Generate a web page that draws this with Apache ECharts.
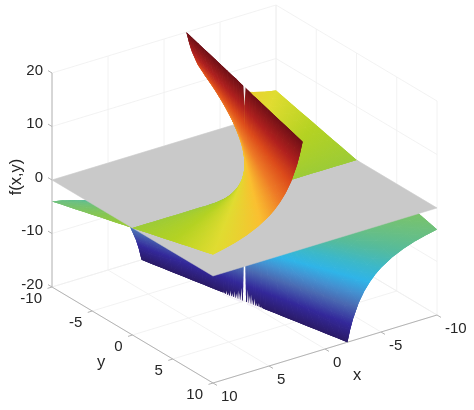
<!DOCTYPE html>
<html>
<head>
<meta charset="utf-8">
<style>html,body{margin:0;padding:0;background:#fff}#c{width:474px;height:410px}</style>
<script src="https://cdn.jsdelivr.net/npm/echarts@6/dist/echarts.min.js"></script>
</head>
<body>
<div id="c"></div>
<script>
const xTicks = [-10, -5, 0, 5, 10];
const yTicks = [-10, -5, 0, 5, 10];
const zTicks = [-20, -10, 0, 10, 20];
const planeLevel = 0;
const xMagnitudes = [0.01, 0.03, 0.1, 0.2, 0.4, 0.6, 0.8, 1, 1.2, 1.4, 1.6, 1.8, 2, 2.25, 2.5, 3, 3.5, 4, 4.5, 5, 6, 7, 8, 9, 10];
const yMagnitudes = [0, 0.15, 0.5, 1, 1.5, 2, 3, 4, 5, 6, 7, 8, 9, 10];
const zMagnitudes = [
  [0, 60, 200, 400, 600, 800, 1200, 1600, 2000, 2400, 2800, 3200, 3600, 4000],
  [0, 20, 66.67, 133.33, 200, 266.67, 400, 533, 667, 800, 933, 1067, 1200, 1333],
  [0, 6, 20, 40, 60, 80, 120, 160, 200, 240, 280, 320, 360, 400],
  [0, 3, 10, 20, 30, 40, 60, 80, 100, 120, 140, 160, 180, 200],
  [0, 1.5, 5, 10, 15, 20, 30, 40, 50, 60, 70, 80, 90, 100],
  [0, 1, 3.33, 6.67, 10, 13.33, 20, 26.67, 33.33, 40, 46.67, 53.33, 60, 66.67],
  [0, 0.75, 2.5, 5, 7.5, 10, 15, 20, 25, 30, 35, 40, 45, 50],
  [0, 0.6, 2, 4, 6, 8, 12, 16, 20, 24, 28, 32, 36, 40],
  [0, 0.5, 1.67, 3.33, 5, 6.67, 10, 13.33, 16.67, 20, 23.33, 26.67, 30, 33.33],
  [0, 0.43, 1.43, 2.86, 4.29, 5.71, 8.57, 11.43, 14.29, 17.14, 20, 22.86, 25.71, 28.57],
  [0, 0.38, 1.25, 2.5, 3.75, 5, 7.5, 10, 12.5, 15, 17.5, 20, 22.5, 25],
  [0, 0.33, 1.11, 2.22, 3.33, 4.44, 6.67, 8.89, 11.11, 13.33, 15.56, 17.78, 20, 22.22],
  [0, 0.3, 1, 2, 3, 4, 6, 8, 10, 12, 14, 16, 18, 20],
  [0, 0.27, 0.89, 1.78, 2.67, 3.56, 5.33, 7.11, 8.89, 10.67, 12.44, 14.22, 16, 17.78],
  [0, 0.24, 0.8, 1.6, 2.4, 3.2, 4.8, 6.4, 8, 9.6, 11.2, 12.8, 14.4, 16],
  [0, 0.2, 0.67, 1.33, 2, 2.67, 4, 5.33, 6.67, 8, 9.33, 10.67, 12, 13.33],
  [0, 0.17, 0.57, 1.14, 1.71, 2.29, 3.43, 4.57, 5.71, 6.86, 8, 9.14, 10.29, 11.43],
  [0, 0.15, 0.5, 1, 1.5, 2, 3, 4, 5, 6, 7, 8, 9, 10],
  [0, 0.13, 0.44, 0.89, 1.33, 1.78, 2.67, 3.56, 4.44, 5.33, 6.22, 7.11, 8, 8.89],
  [0, 0.12, 0.4, 0.8, 1.2, 1.6, 2.4, 3.2, 4, 4.8, 5.6, 6.4, 7.2, 8],
  [0, 0.1, 0.33, 0.67, 1, 1.33, 2, 2.67, 3.33, 4, 4.67, 5.33, 6, 6.67],
  [0, 0.09, 0.29, 0.57, 0.86, 1.14, 1.71, 2.29, 2.86, 3.43, 4, 4.57, 5.14, 5.71],
  [0, 0.08, 0.25, 0.5, 0.75, 1, 1.5, 2, 2.5, 3, 3.5, 4, 4.5, 5],
  [0, 0.07, 0.22, 0.44, 0.67, 0.89, 1.33, 1.78, 2.22, 2.67, 3.11, 3.56, 4, 4.44],
  [0, 0.06, 0.2, 0.4, 0.6, 0.8, 1.2, 1.6, 2, 2.4, 2.8, 3.2, 3.6, 4]
];
const colorLevels = [-20, -17, -14, -12, -10, -8, -6, -4, -1, 2, 4, 7, 10, 13, 16, 20];
const colorValues = ['#2a1a66', '#33289a', '#4a6ab2', '#4490d0', '#2fb4e8', '#3cb8c8', '#55bb9c', '#6ec07c', '#90c840', '#b4d222', '#e0dc30', '#fabf30', '#ee7a26', '#dc4a1a', '#b0201e', '#6e0f16'];
// ragged fringe along the lower cut next to the seam: edge position y and spike height in f units
const fringeY = [-2.0, -1.75, -1.55, -1.35, -1.15, -0.95, -0.78, -0.62, -0.46, -0.3, 0.32, 0.48, 0.64, 0.8, 0.98, 1.18, 1.4, 1.65];
const fringeH = [0.3, 0.6, 0.4, 0.9, 0.6, 1.1, 0.8, 1.5, 1.2, 2.2, 2.4, 1.4, 1.7, 0.9, 1.2, 0.6, 0.7, 0.3];
// open seam at the top of the fin: f at its mouth and at its tip
const seamLevels = [20.3, 16.5];

const TEXT = '#262626', AXIS = '#b4b4b4', GRID = '#efefef', PLANE = '#c9c9c9', FRINGE = '#f3eff6';
const FONT = '"Liberation Sans", Arial, sans-serif';
const LO = -20, HI = 20;

// parallel projection of the data box onto the chart's (pixel-scaled) value axes
function project(x, y, z) {
  return [244.5 - 11.2 * x + 8.05 * y, 194 + 3.4 * x + 4.8 * y - 5.35 * z];
}

const colorStops = colorLevels.map((v, i) => ({ offset: (v - LO) / (HI - LO), color: colorValues[i] }));

function clipZ(poly, limit, keepBelow) {
  const out = [];
  for (let i = 0; i < poly.length; i++) {
    const a = poly[i], b = poly[(i + 1) % poly.length];
    const ain = keepBelow ? a[2] <= limit : a[2] >= limit;
    const bin = keepBelow ? b[2] <= limit : b[2] >= limit;
    if (ain) out.push(a);
    if (ain !== bin) {
      const t = (limit - a[2]) / (b[2] - a[2]);
      out.push([a[0] + (b[0] - a[0]) * t, a[1] + (b[1] - a[1]) * t, limit]);
    }
  }
  return out;
}

function hex(c) { return [1, 3, 5].map(i => parseInt(c.substr(i, 2), 16)); }
function solid(z) {
  for (let i = 0; i < colorLevels.length - 1; i++) {
    if (z <= colorLevels[i + 1]) {
      const t = (z - colorLevels[i]) / (colorLevels[i + 1] - colorLevels[i]);
      const p = hex(colorValues[i]), q = hex(colorValues[i + 1]);
      return 'rgb(' + p.map((v, k) => Math.round(v + (q[k] - v) * t)).join(',') + ')';
    }
  }
  return colorValues[colorValues.length - 1];
}

function triangle(api, a, b, c) {
  const pa = api.coord(project(a[0], a[1], a[2]));
  const pb = api.coord(project(b[0], b[1], b[2]));
  const pc = api.coord(project(c[0], c[1], c[2]));
  const poly = clipZ(clipZ([a, b, c], HI, true), LO, false);
  if (poly.length < 3) return null;
  const pts = poly.map(p => api.coord(project(p[0], p[1], p[2])));
  const ux = pb[0] - pa[0], uy = pb[1] - pa[1], uz = b[2] - a[2];
  const vx = pc[0] - pa[0], vy = pc[1] - pa[1], vz = c[2] - a[2];
  const det = ux * vy - uy * vx;
  let fill;
  const midZ = Math.max(LO, Math.min(HI, poly.reduce((s, p) => s + p[2], 0) / poly.length));
  if (Math.abs(det) > 1e-3) {
    const ga = (uz * vy - uy * vz) / det, gb = (ux * vz - uz * vx) / det;
    const g2 = ga * ga + gb * gb;
    if (g2 > 1e-9) {
      fill = new echarts.graphic.LinearGradient(
        pa[0] + (LO - a[2]) * ga / g2, pa[1] + (LO - a[2]) * gb / g2,
        pa[0] + (HI - a[2]) * ga / g2, pa[1] + (HI - a[2]) * gb / g2,
        colorStops, true);
    }
  }
  if (!fill) fill = solid(midZ);
  return { type: 'polygon', silent: true, shape: { points: pts }, style: { fill: fill } };
}

// surface cells: [xIndex, yIndex, xSign, ySign]; far cells come first
function cellsFor(xSign, ySign, firstColumn) {
  const out = [];
  const xi = xMagnitudes.slice(0, -1).map((_, i) => i).filter(i => i >= firstColumn);
  const yi = yMagnitudes.slice(0, -1).map((_, i) => i);
  if (xSign < 0) xi.reverse();
  if (ySign < 0) yi.reverse();
  xi.forEach(i => yi.forEach(j => out.push([i, j, xSign, ySign])));
  return out;
}
// the lower sheets stop a little further from x = 0, leaving the visible slit
const belowCells = cellsFor(1, -1, 1).concat(cellsFor(-1, 1, 1));
const aboveCells = cellsFor(-1, -1, 0).concat(cellsFor(1, 1, 0));

function renderCell(params, api) {
  const i = api.value(0), j = api.value(1), sx = api.value(2), sy = api.value(3);
  const s = sx * sy;
  const P = (a, b) => [sx * xMagnitudes[a], sy * yMagnitudes[b], s * zMagnitudes[a][b]];
  const A = P(i, j), B = P(i + 1, j), C = P(i + 1, j + 1), D = P(i, j + 1);
  const t1 = triangle(api, A, B, C), t2 = triangle(api, A, C, D);
  // painted three times over so the anti-aliased seams between triangles close
  const kids = [t1, t2, t1, t2, t1, t2].filter(Boolean).map(k => Object.assign({}, k));
  return { type: 'group', children: kids };
}

function renderPlane(params, api) {
  const z = api.value(0);
  const pts = [[10, -10], [10, 10], [-10, 10], [-10, -10]].map(c => api.coord(project(c[0], c[1], z)));
  return { type: 'polygon', silent: true, shape: { points: pts }, style: { fill: PLANE, stroke: PLANE, lineWidth: 0.5 } };
}

function renderFringe(params, api) {
  const y = api.value(0), h = api.value(1), w = 0.09;
  // the lower cut runs where y = -5x
  const at = (v, z) => api.coord(project(-v / 5, v, z));
  const pts = [at(y - w, LO - 0.5), at(y + w, LO - 0.5), at(y, LO + h)];
  return { type: 'polygon', silent: true, shape: { points: pts }, style: { fill: FRINGE } };
}

function renderSeam(params, api) {
  const mouth = api.value(0), tip = api.value(1);
  const at = (x, y, z) => api.coord(project(x, y, z));
  const pts = [at(0.02, -0.12, mouth), at(-0.02, 0.12, mouth), at(0, 0, tip)];
  return { type: 'polygon', silent: true, shape: { points: pts }, style: { fill: '#ffffff', opacity: 0.9 } };
}

// box, grid, ticks: [x1,y1,z1,x2,y2,z2,kind]
const boxLines = [];
const pushLine = (a, b, kind) => boxLines.push([a[0], a[1], a[2], b[0], b[1], b[2], kind]);
xTicks.forEach(x => {
  pushLine([x, -10, -20], [x, 10, -20], 0);
  pushLine([x, -10, -20], [x, -10, 20], 0);
});
yTicks.forEach(y => {
  pushLine([-10, y, -20], [10, y, -20], 0);
  pushLine([-10, y, -20], [-10, y, 20], 0);
});
zTicks.forEach(z => {
  pushLine([10, -10, z], [-10, -10, z], 0);
  pushLine([-10, -10, z], [-10, 10, z], 0);
});
pushLine([10, -10, -20], [10, 10, -20], 1);
pushLine([10, 10, -20], [-10, 10, -20], 1);
pushLine([10, -10, -20], [10, -10, 20], 1);

function renderLine(params, api) {
  const a = api.coord(project(api.value(0), api.value(1), api.value(2)));
  const b = api.coord(project(api.value(3), api.value(4), api.value(5)));
  return { type: 'line', silent: true, shape: { x1: a[0], y1: a[1], x2: b[0], y2: b[1] },
    style: { stroke: api.value(6) ? AXIS : GRID, lineWidth: api.value(6) ? 1 : 0.8 } };
}

// tick marks: [x,y,z,dx,dy]  and  tick labels: [x,y,z,text,kind]
const tickMarks = [], tickLabels = [];
xTicks.forEach(x => { tickMarks.push([x, 10, -20, 4, 2.4]); tickLabels.push([x, 10, -20, String(x), 0]); });
yTicks.forEach(y => { tickMarks.push([10, y, -20, -4.5, 1.4]); tickLabels.push([10, y, -20, String(y), 1]); });
zTicks.forEach(z => { tickMarks.push([10, -10, z, -4, -2.4]); tickLabels.push([10, -10, z, String(z), 2]); });

function renderTick(params, api) {
  const a = api.coord(project(api.value(0), api.value(1), api.value(2)));
  return { type: 'line', silent: true, shape: { x1: a[0], y1: a[1], x2: a[0] + api.value(3), y2: a[1] + api.value(4) },
    style: { stroke: AXIS, lineWidth: 1 } };
}
const labelPlacement = [
  { dx: 8, dy: 13.5, align: 'left' },
  { dx: -10, dy: 12, align: 'right' },
  { dx: -9, dy: -2.5, align: 'right' }
];
function renderLabel(params, api) {
  const a = api.coord(project(api.value(0), api.value(1), api.value(2)));
  const p = labelPlacement[api.value(4)];
  return { type: 'text', silent: true, x: a[0] + p.dx, y: a[1] + p.dy,
    style: { text: tickLabels[params.dataIndex][3], font: '15px ' + FONT, fill: TEXT, align: p.align, verticalAlign: 'middle' } };
}
const axisTitles = [
  { text: 'x', at: [357, 375], rotate: 0 },
  { text: 'y', at: [101, 362], rotate: 0 },
  { text: 'f(x,y)', at: [16, 177], rotate: Math.PI / 2 }
];
function renderTitle(params, api) {
  const t = axisTitles[params.dataIndex];
  const a = api.coord(t.at);
  return { type: 'text', silent: true, x: a[0], y: a[1], rotation: t.rotate,
    style: { text: t.text, font: '16.5px ' + FONT, fill: TEXT, align: 'center', verticalAlign: 'middle' } };
}

const chart = echarts.init(document.getElementById('c'), null, { renderer: 'canvas', width: 474, height: 410 });
const custom = (name, z, data, renderItem) => ({
  type: 'custom', name, z, data, renderItem, clip: false, silent: true, animation: false,
  coordinateSystem: 'cartesian2d', encode: { x: 0, y: 1 }
});
chart.setOption({
  animation: false,
  backgroundColor: '#ffffff',
  grid: { left: 0, right: 0, top: 0, bottom: 0 },
  xAxis: { type: 'value', min: 0, max: 474, show: false },
  yAxis: { type: 'value', min: 0, max: 410, inverse: true, show: false },
  series: [
    custom('box', 1, boxLines, renderLine),
    custom('ticks', 2, tickMarks, renderTick),
    custom('tick labels', 3, tickLabels.map(l => [l[0], l[1], l[2], 0, l[4]]), renderLabel),
    custom('axis titles', 3, axisTitles.map(t => t.at), renderTitle),
    custom('surface below', 4, belowCells, renderCell),
    custom('fringe', 4.5, fringeY.map((y, i) => [y, fringeH[i]]), renderFringe),
    custom('plane', 5, [[planeLevel]], renderPlane),
    custom('surface above', 6, aboveCells, renderCell),
    custom('seam', 7, [seamLevels], renderSeam)
  ]
});
</script>
</body>
</html>
